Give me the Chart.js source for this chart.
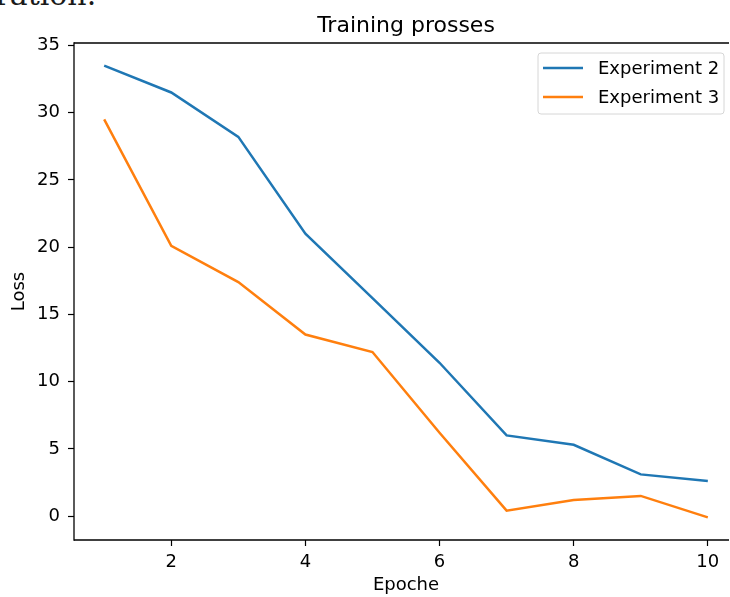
<!DOCTYPE html>
<html>
<head>
<meta charset="utf-8">
<script src="https://cdn.jsdelivr.net/npm/chart.js@4.4.1/dist/chart.umd.min.js"></script>
<style>
  html, body { margin: 0; padding: 0; background: #fff; overflow: hidden; }
  body { width: 730px; height: 597px; position: relative; }
  #wrap { position: absolute; left: 0; top: 0; width: 730px; height: 597px; overflow: hidden; }
  #above { position: absolute; left: -44px; top: -20px; font: 30px/30px "DejaVu Serif", serif; color: #1a1a1a; white-space: nowrap; }
  canvas { position: absolute; left: 0; top: 0; }
</style>
</head>
<body>
<div id="above">iteration.</div>
<div id="wrap"><canvas id="chart" width="760" height="597"></canvas></div>
<script>
const epochs = [1, 2, 3, 4, 5, 6, 7, 8, 9, 10];
const experiment2 = [33.5, 31.5, 28.2, 21.0, 16.2, 11.4, 6.0, 5.3, 3.1, 2.6];
const experiment3 = [29.5, 20.1, 17.4, 13.5, 12.2, 6.2, 0.4, 1.2, 1.5, -0.1];
const xTicks = [2, 4, 6, 8, 10];
const yTicks = [0, 5, 10, 15, 20, 25, 30, 35];

const font = '"DejaVu Sans", sans-serif';
const fs = 18;

function seg(ctx, x1, y1, x2, y2) {
  ctx.beginPath();
  ctx.moveTo(x1, y1);
  ctx.lineTo(x2, y2);
  ctx.stroke();
}

// spines (left, top, bottom), title and legend drawn like matplotlib
const mplLook = {
  id: 'mplLook',
  afterDraw(chart) {
    const ctx = chart.ctx;
    const a = chart.chartArea;
    const edge = 729; // the visible part ends at the window edge
    ctx.save();
    ctx.strokeStyle = '#000';
    ctx.lineWidth = 1.3;
    seg(ctx, a.left, a.top, edge, a.top);
    seg(ctx, a.left, a.bottom, edge, a.bottom);
    seg(ctx, a.left, a.top - 0.65, a.left, a.bottom + 0.65);

    ctx.fillStyle = '#000';
    ctx.font = '22px ' + font;
    ctx.textAlign = 'center';
    ctx.textBaseline = 'alphabetic';
    ctx.fillText('Training prosses', (a.left + a.right) / 2, 32);

    // legend
    const bx = 538, by = 53, bw = 186, bh = 61;
    ctx.beginPath();
    ctx.roundRect(bx, by, bw, bh, 3);
    ctx.fillStyle = 'rgba(255,255,255,0.8)';
    ctx.fill();
    ctx.strokeStyle = '#d6d6d6';
    ctx.lineWidth = 1;
    ctx.stroke();
    ctx.font = fs + 'px ' + font;
    ctx.textAlign = 'left';
    ctx.textBaseline = 'middle';
    chart.data.datasets.forEach((ds, i) => {
      const y = 68 + i * 29;
      ctx.strokeStyle = ds.borderColor;
      ctx.lineWidth = ds.borderWidth;
      seg(ctx, 543, y, 583, y);
      ctx.fillStyle = '#000';
      ctx.fillText(ds.label, 598, y + 1);
    });
    ctx.restore();
  }
};

new Chart(document.getElementById('chart'), {
  type: 'line',
  data: {
    labels: epochs,
    datasets: [{
      label: 'Experiment 2',
      data: experiment2,
      borderColor: '#1f77b4',
      borderWidth: 2.5,
      pointRadius: 0,
      fill: false
    }, {
      label: 'Experiment 3',
      data: experiment3,
      borderColor: '#ff7f0e',
      borderWidth: 2.5,
      pointRadius: 0,
      fill: false
    }]
  },
  options: {
    responsive: false,
    animation: false,
    devicePixelRatio: 1,
    layout: { padding: { top: 43, right: 22, left: 0, bottom: 0 } },
    plugins: { legend: { display: false }, title: { display: false }, tooltip: { enabled: false } },
    scales: {
      x: {
        type: 'linear',
        min: 0.55,
        max: 10.45,
        afterFit: s => { s.height = 57; },
        afterBuildTicks: s => { s.ticks = xTicks.map(v => ({ value: v })); },
        grid: { drawOnChartArea: false, tickLength: 6, tickColor: '#000', tickWidth: 1.2 },
        border: { display: false },
        ticks: { color: '#000', font: { family: font, size: fs }, padding: 6, maxRotation: 0, autoSkip: false },
        title: { display: true, text: 'Epoche', color: '#000', font: { family: font, size: fs }, padding: { top: 0, bottom: 1 } }
      },
      y: {
        min: -1.78,
        max: 35.18,
        afterFit: s => { s.width = 74; },
        afterBuildTicks: s => { s.ticks = yTicks.map(v => ({ value: v })); },
        grid: { drawOnChartArea: false, tickLength: 6, tickColor: '#000', tickWidth: 1.2 },
        border: { display: false },
        ticks: { color: '#000', font: { family: font, size: fs }, padding: 8, autoSkip: false },
        title: { display: true, text: 'Loss', color: '#000', font: { family: font, size: fs }, padding: { top: 9, bottom: 0 } }
      }
    }
  },
  plugins: [mplLook]
});
</script>
</body>
</html>
